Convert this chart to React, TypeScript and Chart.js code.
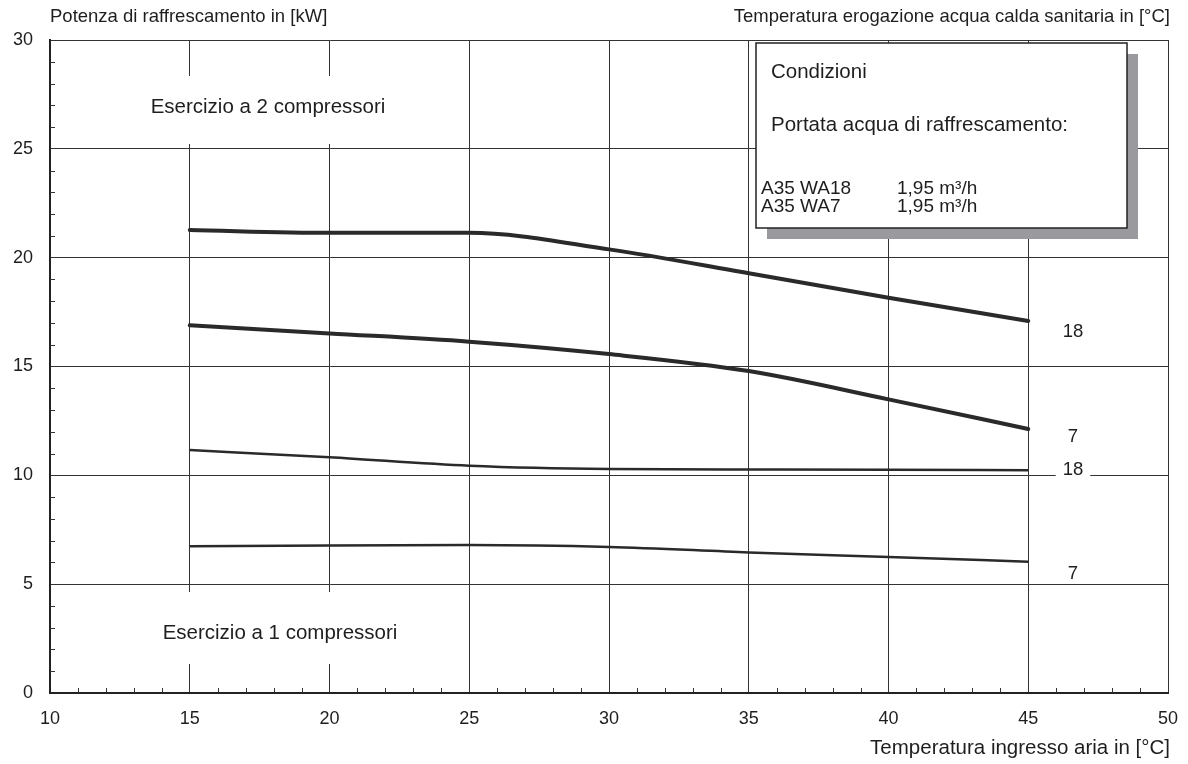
import React, { useEffect, useRef } from 'react';
import { Chart, registerables } from 'chart.js';

Chart.register(...registerables);

// ---- data ----
const airTemps = [15, 20, 25, 30, 35, 40, 45];
const wa18TwoComp = [21.27, 21.14, 21.14, 20.38, 19.28, 18.16, 17.09];
const wa7TwoComp = [16.89, 16.52, 16.14, 15.57, 14.79, 13.49, 12.13];
const wa18OneComp = [11.16, 10.83, 10.44, 10.29, 10.27, 10.26, 10.23];
const wa7OneComp = [6.74, 6.78, 6.8, 6.71, 6.46, 6.25, 6.03];

const curveLabels = ['18', '7', '18', '7'];
const curveLabelX = 46.6;
const curveLabelY = [16.58, 11.76, 10.24, 5.47];

const xMin = 10;
const xMax = 50;
const yMin = 0;
const yMax = 30;
const majorStep = 5;
const minorStep = 1;

const yAxisTitle = 'Potenza di raffrescamento in [kW]';
const rightTitle = 'Temperatura erogazione acqua calda sanitaria in [°C]';
const xAxisTitle = 'Temperatura ingresso aria in [°C]';
const regionTwo = 'Esercizio a 2 compressori';
const regionOne = 'Esercizio a 1 compressori';
const legendTitle = 'Condizioni';
const legendSub = 'Portata acqua di raffrescamento:';
const legendRowNames = ['A35 WA18', 'A35 WA7'];
const legendRowValues = ['1,95 m³/h', '1,95 m³/h'];

const FONT = "'Liberation Sans', Arial, Helvetica, sans-serif";
const INK = '#1e1e1e';
const LINE = '#2a2a2a';
const GRID = '#333333';

function font(size: number) {
  return `${size}px ${FONT}`;
}

const decorPlugin = {
  id: 'decor',
  beforeDatasetsDraw(chart: any) {
    const { ctx, chartArea, scales } = chart;
    const x = scales.x;
    const y = scales.y;
    ctx.save();
    // minor ticks (inward)
    ctx.strokeStyle = GRID;
    ctx.lineWidth = 1;
    ctx.beginPath();
    for (let v = xMin + minorStep; v < xMax; v += minorStep) {
      if (v % majorStep === 0) continue;
      const px = Math.round(x.getPixelForValue(v)) + 0.5;
      ctx.moveTo(px, chartArea.bottom);
      ctx.lineTo(px, chartArea.bottom - 5);
    }
    for (let v = yMin + minorStep; v < yMax; v += minorStep) {
      if (v % majorStep === 0) continue;
      const py = Math.round(y.getPixelForValue(v)) + 0.5;
      ctx.moveTo(chartArea.left, py);
      ctx.lineTo(chartArea.left + 5, py);
    }
    ctx.stroke();

    // white masks behind region texts
    ctx.font = font(20.5);
    const t2w = ctx.measureText(regionTwo).width;
    const t1w = ctx.measureText(regionOne).width;
    const t2cx = chartArea.left + 218;
    const t2cy = chartArea.top + 67;
    const t1cx = chartArea.left + 230;
    const t1cy = chartArea.bottom - 60;
    ctx.fillStyle = '#ffffff';
    ctx.fillRect(t2cx - t2w / 2 - 10, chartArea.top + 36, t2w + 20, 68);
    ctx.fillRect(t1cx - t1w / 2 - 10, chartArea.bottom - 101, t1w + 20, 72);

    // masks behind curve labels
    ctx.font = font(18.5);
    curveLabels.forEach((lab, i) => {
      const w = ctx.measureText(lab).width;
      const px = x.getPixelForValue(curveLabelX);
      const py = y.getPixelForValue(curveLabelY[i]);
      ctx.fillRect(px - w / 2 - 7, py - 8, w + 14, 16);
    });

    // texts
    ctx.fillStyle = INK;
    ctx.textBaseline = 'middle';
    ctx.textAlign = 'center';
    ctx.font = font(20.5);
    ctx.fillText(regionTwo, t2cx, t2cy);
    ctx.fillText(regionOne, t1cx, t1cy);
    ctx.font = font(18.5);
    curveLabels.forEach((lab, i) => {
      ctx.fillText(lab, x.getPixelForValue(curveLabelX), y.getPixelForValue(curveLabelY[i]));
    });

    ctx.font = font(18.5);
    ctx.textAlign = 'left';
    ctx.fillText(yAxisTitle, chartArea.left, 17);
    ctx.textAlign = 'right';
    ctx.fillText(rightTitle, chartArea.right + 2, 17);
    ctx.font = font(20.5);
    ctx.fillText(xAxisTitle, chartArea.right + 2, 748);
    ctx.restore();
  },
  afterDatasetsDraw(chart: any) {
    const { ctx, chartArea } = chart;
    ctx.save();
    const bw = 371;
    const bh = 185;
    const bl = chartArea.right - 41 - bw;
    const bt = chartArea.top + 3;
    ctx.fillStyle = '#9a9a9e';
    ctx.fillRect(bl + 11, bt + 11, bw, bh);
    ctx.fillStyle = '#ffffff';
    ctx.fillRect(bl, bt, bw, bh);
    ctx.strokeStyle = '#222';
    ctx.lineWidth = 1.5;
    ctx.strokeRect(bl, bt, bw, bh);

    ctx.fillStyle = INK;
    ctx.textBaseline = 'middle';
    ctx.textAlign = 'left';
    ctx.font = font(20.5);
    ctx.fillText(legendTitle, bl + 15, bt + 29);
    ctx.fillText(legendSub, bl + 15, bt + 82);
    ctx.font = font(19);
    legendRowNames.forEach((n, i) => {
      ctx.fillText(n, bl + 5, bt + 146 + i * 18);
      ctx.fillText(legendRowValues[i], bl + 141, bt + 146 + i * 18);
    });
    ctx.restore();
  },
};

function toPoints(vals: number[]) {
  return airTemps.map((t, i) => ({ x: t, y: vals[i] }));
}

export default function App() {
  const ref = useRef<HTMLCanvasElement | null>(null);

  useEffect(() => {
    document.body.style.margin = '0';
    const canvas = ref.current;
    if (!canvas) return;
    const thick = { borderColor: LINE, borderWidth: 4, pointRadius: 0, cubicInterpolationMode: 'monotone' as const, fill: false, borderCapStyle: 'round' as const };
    const thin = { borderColor: LINE, borderWidth: 2.5, pointRadius: 0, cubicInterpolationMode: 'monotone' as const, fill: false };
    const chart = new Chart(canvas, {
      type: 'line',
      data: {
        datasets: [
          { label: 'A35 WA18 2', data: toPoints(wa18TwoComp), ...thick },
          { label: 'A35 WA7 2', data: toPoints(wa7TwoComp), ...thick },
          { label: 'A35 WA18 1', data: toPoints(wa18OneComp), ...thin },
          { label: 'A35 WA7 1', data: toPoints(wa7OneComp), ...thin },
        ],
      },
      options: {
        responsive: false,
        animation: false,
        events: [],
        layout: { padding: { left: 0, top: 40, right: 20, bottom: 0 } },
        plugins: { legend: { display: false }, tooltip: { enabled: false }, title: { display: false } },
        scales: {
          x: {
            type: 'linear',
            min: xMin,
            max: xMax,
            ticks: { stepSize: majorStep, color: INK, font: { family: FONT, size: 18 }, padding: 15, maxRotation: 0 },
            grid: { color: GRID, lineWidth: 1, drawTicks: false, tickLength: 0 },
            border: { color: '#222', width: 2 },
            afterFit: (s: any) => { s.height = 71; s.paddingLeft = 0; s.paddingRight = 0; },
          },
          y: {
            type: 'linear',
            min: yMin,
            max: yMax,
            ticks: { stepSize: majorStep, color: INK, font: { family: FONT, size: 18 }, padding: 17 },
            grid: { color: GRID, lineWidth: 1, drawTicks: false, tickLength: 0 },
            border: { color: '#222', width: 2 },
            afterFit: (s: any) => { s.width = 50; s.paddingTop = 0; s.paddingBottom = 0; },
          },
        },
      },
      plugins: [decorPlugin],
    });
    return () => chart.destroy();
  }, []);

  return (
    <div style={{ width: 1188, height: 764, background: '#fff' }}>
      <canvas ref={ref} width={1188} height={764} style={{ display: 'block' }} />
    </div>
  );
}
